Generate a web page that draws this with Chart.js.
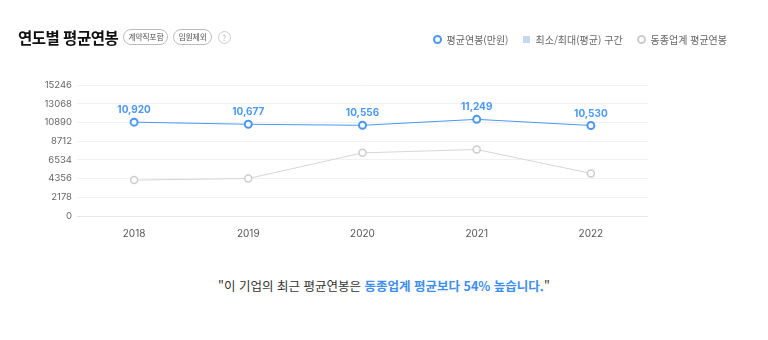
<!DOCTYPE html>
<html lang="ko">

<head>
    <meta charset="UTF-8">
    <meta name="viewport" content="width=device-width, initial-scale=1.0">
    <title>연도별 평균연봉</title>
    <script src="https://cdn.jsdelivr.net/npm/chart.js"></script>
    <style>
        body { margin: 0; background: #fff; font-family: "Noto Sans CJK KR", "Noto Sans", sans-serif; }
        .wrap { position: relative; width: 768px; height: 340px; overflow: hidden; }
        .head { position: absolute; left: 18px; top: 26px; display: flex; align-items: center; z-index: 2; }
        .head h2 { margin: 0; font-size: 15.5px; font-weight: 700; color: #111; letter-spacing: -0.5px; }
        .badge { margin-left: 5px; font-size: 8px; color: #555; border: 1px solid #bbb; border-radius: 8px; padding: 1px 4px; line-height: 12px; letter-spacing: -0.3px; }
        .q { margin-left: 6px; width: 11px; height: 11px; border: 1px solid #ccc; border-radius: 50%; font-size: 8px; color: #bbb; text-align: center; line-height: 11px; }
        .legend { position: absolute; right: 41px; top: 32px; display: flex; align-items: center; font-size: 10px; color: #666; z-index: 2; }
        .legend span { display: flex; align-items: center; margin-left: 14px; }
        .ring { width: 5px; height: 5px; border: 2px solid #4a97f5; border-radius: 50%; margin-right: 5px; }
        .ring.gray { border-color: #ccc; }
        .box { width: 7px; height: 7px; background: #c3d7f3; margin-right: 6px; }
        #chart { position: absolute; left: 0; top: 0; }
        .note { position: absolute; left: 0; width: 768px; top: 276px; text-align: center; font-size: 12.5px; color: #333; }
        .note b { color: #3d8ef2; font-weight: 600; }
    </style>
</head>

<body>
    <div class="wrap">
        <div class="head">
            <h2>연도별 평균연봉</h2>
            <div class="badge">계약직포함</div>
            <div class="badge">임원제외</div>
            <div class="q">?</div>
        </div>
        <div class="legend">
            <span><i class="ring"></i>평균연봉(만원)</span>
            <span><i class="box"></i>최소/최대(평균) 구간</span>
            <span><i class="ring gray"></i>동종업계 평균연봉</span>
        </div>
        <canvas id="chart" width="768" height="260"></canvas>
        <div class="note">"이 기업의 최근 평균연봉은 <b>동종업계 평균보다 54% 높습니다.</b>"</div>
    </div>
    <script>
        const years = ['2018', '2019', '2020', '2021', '2022'];
        const avgSalary = [10920, 10677, 10556, 11249, 10530];
        const industryAvg = [4180, 4360, 7350, 7740, 4960];
        const yTicks = [0, 2178, 4356, 6534, 8712, 10890, 13068, 15246];

        // value labels above the company line
        const valueLabels = {
            id: 'valueLabels',
            afterDatasetsDraw(chart) {
                const ctx = chart.ctx;
                const meta = chart.getDatasetMeta(0);
                ctx.save();
                ctx.font = '700 10px Inter, sans-serif';
                ctx.fillStyle = '#4a97f5';
                ctx.textAlign = 'center';
                ctx.textBaseline = 'middle';
                meta.data.forEach((pt, i) => {
                    ctx.fillText(avgSalary[i].toLocaleString('en-US'), pt.x, pt.y - 12);
                });
                ctx.restore();
            }
        };

        new Chart(document.getElementById('chart'), {
            type: 'line',
            data: {
                labels: years,
                datasets: [{
                    label: '평균연봉(만원)',
                    data: avgSalary,
                    borderColor: '#4a97f5',
                    borderWidth: 1,
                    pointBackgroundColor: '#fff',
                    pointBorderColor: '#4a97f5',
                    pointBorderWidth: 2,
                    pointRadius: 3.5,
                    tension: 0
                }, {
                    label: '동종업계 평균연봉',
                    data: industryAvg,
                    borderColor: '#d6d6d6',
                    borderWidth: 1,
                    pointBackgroundColor: '#fff',
                    pointBorderColor: '#cdcdcd',
                    pointBorderWidth: 1.5,
                    pointRadius: 3.5,
                    tension: 0
                }]
            },
            options: {
                responsive: false,
                animation: false,
                layout: { padding: { top: 85, right: 120, left: 0, bottom: 0 } },
                plugins: { legend: { display: false }, tooltip: { enabled: false } },
                scales: {
                    x: {
                        offset: true,
                        grid: { display: false, drawTicks: false },
                        border: { display: false },
                        ticks: { padding: 12, color: '#555', font: { size: 10, family: 'Inter' } },
                        afterFit: s => { s.height = 44; }
                    },
                    y: {
                        min: 0,
                        max: 15246,
                        afterBuildTicks: s => { s.ticks = yTicks.map(v => ({ value: v })); },
                        grid: {
                            drawTicks: false,
                            color: ctx => ctx.tick && ctx.tick.value === 0 ? '#e6e6e6' : '#f2f2f2'
                        },
                        border: { display: false },
                        ticks: {
                            padding: 5,
                            color: '#666',
                            font: { size: 9.5, family: 'Inter' },
                            callback: v => String(v)
                        },
                        afterFit: s => { s.width = 77; }
                    }
                }
            },
            plugins: [valueLabels]
        });
    </script>
</body>

</html>
